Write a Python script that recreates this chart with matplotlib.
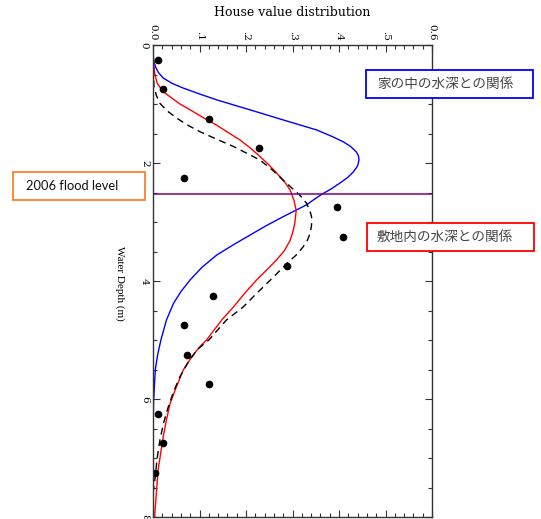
import numpy as np
import matplotlib.pyplot as plt
from matplotlib.patches import Rectangle
from matplotlib.ticker import MultipleLocator

# observed share of house value per 0.5 m depth bin
dot_depth = [0.25, 0.75, 1.25, 1.75, 2.25, 2.75, 3.25, 3.75, 4.25, 4.75, 5.25, 5.75, 6.25, 6.75, 7.25]
dot_value = [0.011, 0.022, 0.12, 0.227, 0.066, 0.396, 0.409, 0.289, 0.128, 0.066, 0.074, 0.12, 0.011, 0.021, 0.004]

# fitted curves
blue_depth = [0.0, 0.15, 0.28, 0.38, 0.47, 0.56, 0.65, 0.73, 0.83, 0.93, 1.10, 1.27, 1.44, 1.55, 1.64, 1.72,
              1.81, 1.88, 1.95, 2.05, 2.15, 2.25, 2.34, 2.44, 2.53, 2.62, 2.71, 2.91, 3.06, 3.22, 3.39, 3.56,
              3.77, 3.98, 4.18, 4.38, 4.66, 5.0, 5.25, 5.5, 6.07, 7.0, 8.0]
blue_value = [0.0, 0.0, 0.002, 0.006, 0.012, 0.022, 0.041, 0.065, 0.1, 0.137, 0.209, 0.28, 0.352, 0.385, 0.409, 0.425,
              0.437, 0.442, 0.443, 0.44, 0.431, 0.418, 0.402, 0.383, 0.363, 0.346, 0.33, 0.28, 0.244, 0.209, 0.172, 0.137,
              0.105, 0.08, 0.06, 0.044, 0.029, 0.017, 0.01, 0.005, 0.001, 0.0, 0.0]

red_depth = [0.0, 0.15, 0.35, 0.5, 0.65, 0.79, 0.88, 1.0, 1.10, 1.23, 1.36, 1.49, 1.61, 1.75, 1.89, 2.03, 2.17,
             2.34, 2.46, 2.63, 2.80, 3.02, 3.16, 3.31, 3.48, 3.64, 3.81, 3.98, 4.2, 4.44, 4.66, 5.0, 5.11, 5.3,
             5.51, 5.8, 6.07, 6.35, 6.64, 7.2, 7.93, 8.0]
red_value = [0.0, 0.0, 0.002, 0.004, 0.009, 0.022, 0.037, 0.058, 0.08, 0.108, 0.137, 0.163, 0.187, 0.21, 0.23, 0.249, 0.266,
             0.285, 0.295, 0.303, 0.308, 0.305, 0.301, 0.295, 0.283, 0.266, 0.245, 0.223, 0.198, 0.173, 0.148, 0.115, 0.101,
             0.082, 0.065, 0.05, 0.037, 0.029, 0.022, 0.011, 0.004, 0.004]

dash_depth = [0.0, 0.3, 0.7, 0.85, 0.99, 1.12, 1.24, 1.36, 1.47, 1.6, 1.72, 1.84, 1.95, 2.12, 2.29, 2.42, 2.54,
              2.68, 2.8, 2.91, 3.05, 3.19, 3.31, 3.42, 3.56, 3.7, 3.87, 4.04, 4.24, 4.44, 4.66, 5.0, 5.17, 5.4,
              5.62, 5.88, 6.13, 6.4, 6.69, 7.0, 7.37, 7.6]
dash_value = [0.0, 0.0, 0.002, 0.007, 0.015, 0.031, 0.051, 0.075, 0.101, 0.138, 0.173, 0.203, 0.23, 0.257, 0.28, 0.298, 0.315,
              0.33, 0.337, 0.341, 0.341, 0.338, 0.332, 0.323, 0.308, 0.288, 0.267, 0.245, 0.219, 0.194, 0.158, 0.12, 0.094, 0.074,
              0.058, 0.044, 0.033, 0.023, 0.015, 0.009, 0.004, 0.0]

flood_level = 2.53
x_ticks = [0.0, 0.1, 0.2, 0.3, 0.4, 0.5, 0.6]
x_labels = ["0.0", ".1", ".2", ".3", ".4", ".5", "0.6"]
y_ticks = [0, 2, 4, 6, 8]

W, H = 541, 519
fig = plt.figure(figsize=(W / 100, H / 100), dpi=100)
ax = fig.add_axes([153 / W, 1 - 517 / H, (432 - 153) / W, (517 - 45) / H])

ax.plot(blue_value, blue_depth, color="blue", lw=1.0)
ax.plot(red_value, red_depth, color="red", lw=1.0)
ax.plot(dash_value, dash_depth, color="black", lw=1.0, dashes=(5, 3.5))
ax.plot(dot_value, dot_depth, "o", color="black", ms=4.5, ls="none")
ax.axhline(flood_level, color="#800080", lw=1.1)

ax.set_xlim(0, 0.6)
ax.set_ylim(8, 0)
ax.xaxis.set_ticks_position("top")
ax.set_xticks(x_ticks)
ax.set_xticklabels(x_labels, rotation=-90, family="DejaVu Serif", fontsize=7.5)
ax.set_yticks(y_ticks)
ax.set_yticklabels([str(t) for t in y_ticks], rotation=-90, va="center", family="DejaVu Serif", fontsize=7.5)
ax.xaxis.set_minor_locator(MultipleLocator(0.02))
ax.yaxis.set_minor_locator(MultipleLocator(0.5))
ax.tick_params(which="both", direction="in", top=True, bottom=True, left=True, right=True,
               width=0.8, color="#333333")
ax.tick_params(which="major", length=5, pad=3)
ax.tick_params(which="minor", length=3)
for s in ax.spines.values():
    s.set_color("#333333")
    s.set_linewidth(1.0)

fig.text(292 / W, 1 - 12 / H, "House value distribution", ha="center", va="center",
         family="DejaVu Serif", fontsize=9)
fig.text(120 / W, 1 - 283 / H, "Water Depth (m)", ha="center", va="center", rotation=-90,
         family="Liberation Serif", fontsize=8)

def box(x0, y0, x1, y1, tx, color, label, family, size, tcolor):
    fig.patches.append(Rectangle((x0 / W, 1 - y1 / H), (x1 - x0) / W, (y1 - y0) / H,
                                 transform=fig.transFigure, facecolor="white", edgecolor=color,
                                 lw=1.3, zorder=5))
    fig.text(tx / W, 1 - (y0 + y1) / 2 / H, label, ha="center", va="center",
             family=family, fontsize=size, color=tcolor, zorder=6)

box(13, 172, 145, 200, 72, "#ff7f27", "2006 flood level", "Lato", 9.3, "#111111")
box(366, 70, 533, 98, 445, "blue", "家の中の水深との関係", ["Noto Sans CJK JP", "DejaVu Sans"], 9.8, "#444444")
box(367, 223, 534, 251, 445, "red", "敷地内の水深との関係", ["Noto Sans CJK JP", "DejaVu Sans"], 9.8, "#444444")

fig.savefig("out.png", dpi=100)
